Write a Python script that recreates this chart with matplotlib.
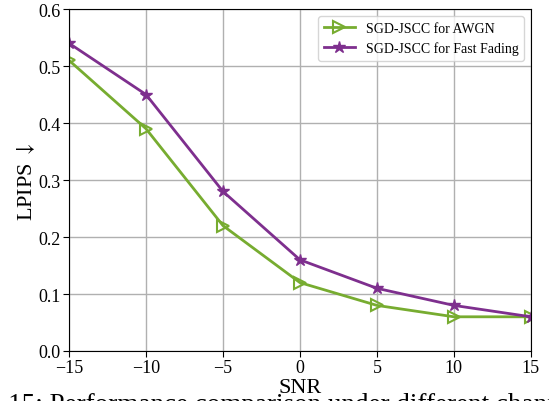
import matplotlib.pyplot as plt

snr = [-15, -10, -5, 0, 5, 10, 15]
lpips_awgn = [0.51, 0.39, 0.22, 0.12, 0.08, 0.06, 0.06]
lpips_fading = [0.54, 0.45, 0.28, 0.16, 0.11, 0.08, 0.06]

plt.rcParams['font.family'] = ['Liberation Serif', 'DejaVu Serif']
plt.rcParams['mathtext.fontset'] = 'stix'

fig = plt.figure(figsize=(5.49, 4.02), dpi=100)
ax = fig.add_axes([0.1257, 0.1244, 0.8413, 0.8506])

ax.plot(snr, lpips_awgn, color='#77ac30', lw=2, marker='>', ms=9,
        markerfacecolor='none', markeredgewidth=1.5, label='SGD-JSCC for AWGN')
ax.plot(snr, lpips_fading, color='#7e2f8e', lw=2, marker='*', ms=9,
        label='SGD-JSCC for Fast Fading')

ax.set_xlim(-15, 15)
ax.set_ylim(0, 0.6)
ax.set_xticks([-15, -10, -5, 0, 5, 10, 15])
ax.set_xticklabels(['\u221215', '\u221210', '\u22125', '0', '5', '10', '15'])
ax.set_yticks([0.0, 0.1, 0.2, 0.3, 0.4, 0.5, 0.6])
ax.grid(True, color='#b0b0b0', lw=1)
ax.tick_params(labelsize=13, length=4, pad=2)
ax.set_xlabel('SNR', fontsize=16, labelpad=1)
ax.set_ylabel('LPIPS $\\downarrow$', fontsize=16, labelpad=1)
ax.legend(loc='upper right', fontsize=10, framealpha=0.8, edgecolor='#cccccc',
          handlelength=2.2)

# caption of the figure, cut off by the bottom edge as in the source
fig.text(-0.125, -0.024, 'Figure 15: Performance comparison under different channel conditions.',
         fontsize=19.5, va='baseline', ha='left')

fig.savefig('out.png', dpi=100)
